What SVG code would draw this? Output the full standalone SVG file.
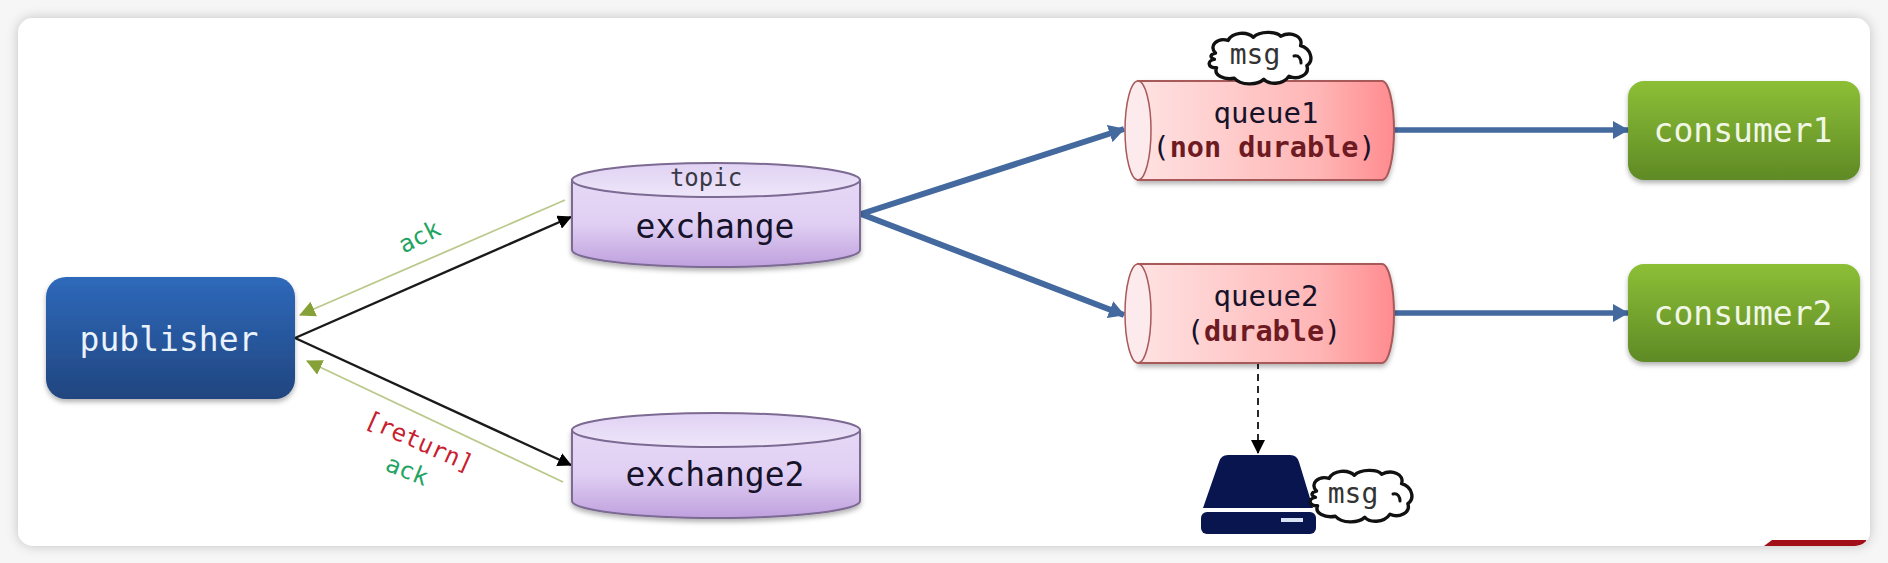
<svg xmlns="http://www.w3.org/2000/svg" xmlns:xlink="http://www.w3.org/1999/xlink" width="1888" height="563" viewBox="0 0 1888 563">
<style>
text{font-family:"DejaVu Sans Mono","Liberation Mono",monospace;text-anchor:middle}
.cyl{fill:url(#gPurple);stroke:#7d6a93;stroke-width:2}
.cylTop{fill:url(#gPurpleTop);stroke:#7d6a93;stroke-width:2}
.q{fill:url(#gRed);stroke:#a85a5a;stroke-width:2}
.qEnd{fill:#fdeaec;stroke:#a85a5a;stroke-width:1.5}
.dark{fill:#15122a}
.b{font-weight:bold;fill:#6e1a22}
.cloud{fill:#fff;stroke:#111;stroke-width:3.2;stroke-linejoin:round}
.curl{fill:none;stroke:#111;stroke-width:3;stroke-linecap:round}
.msg{font-size:28px;fill:#333}
.blue{stroke:#43699f;fill:none}
.black{stroke:#1a1a1a;stroke-width:2.4;fill:none}
.ackline{stroke:#b9c98a;stroke-width:1.8;fill:none}
.ack{font-size:24px;fill:#1fa463}
.ret{font-size:24px;fill:#c8202f}
.light{font-size:33px;fill:#f1f7e6}
</style>
<defs>
<linearGradient id="gBlue" x1="0" y1="0" x2="0" y2="1"><stop offset="0" stop-color="#2e69bb"/><stop offset="1" stop-color="#21457f"/></linearGradient>
<linearGradient id="gGreen" x1="0" y1="0" x2="0" y2="1"><stop offset="0" stop-color="#8cbf36"/><stop offset="1" stop-color="#5f8a26"/></linearGradient>
<linearGradient id="gPurple" x1="0" y1="0" x2="0" y2="1"><stop offset="0" stop-color="#e6d8f6"/><stop offset="0.5" stop-color="#e0cff3"/><stop offset="1" stop-color="#bfa0de"/></linearGradient>
<linearGradient id="gPurpleTop" x1="0" y1="0" x2="0" y2="1"><stop offset="0" stop-color="#e0d2f3"/><stop offset="1" stop-color="#eee6fa"/></linearGradient>
<linearGradient id="gRed" x1="0" y1="0" x2="1" y2="0"><stop offset="0" stop-color="#ffe2e2"/><stop offset="0.7" stop-color="#ffb6b6"/><stop offset="1" stop-color="#ff8b8f"/></linearGradient>
<filter id="cardShadow" x="-5%" y="-10%" width="110%" height="120%"><feDropShadow dx="0" dy="0" stdDeviation="6" flood-color="#000" flood-opacity="0.22"/></filter>
<filter id="nodeShadow" x="-10%" y="-10%" width="120%" height="130%"><feDropShadow dx="0" dy="3" stdDeviation="2.5" flood-color="#000" flood-opacity="0.3"/></filter>
<clipPath id="cardClip"><rect x="18" y="18" width="1852" height="528" rx="15"/></clipPath>
<marker id="mBlack" markerUnits="userSpaceOnUse" viewBox="0 0 14 14" markerWidth="14" markerHeight="14" refX="13" refY="7" orient="auto"><path d="M0,0L14,7L0,14Z" fill="#000"/></marker>
<marker id="mGreen" markerUnits="userSpaceOnUse" viewBox="0 0 16 16" markerWidth="16" markerHeight="16" refX="15" refY="8" orient="auto"><path d="M0,0L16,8L0,16Z" fill="#86a137"/></marker>
<marker id="mBlue" markerUnits="userSpaceOnUse" viewBox="0 0 16 18" markerWidth="16" markerHeight="18" refX="15" refY="9" orient="auto"><path d="M0,0L16,9L0,18Z" fill="#43699f"/></marker>
<marker id="mDash" markerUnits="userSpaceOnUse" viewBox="0 0 14 14" markerWidth="14" markerHeight="14" refX="7" refY="13" orient="0"><path d="M0,0L14,0L7,14Z" fill="#000"/></marker>
<path id="cloudShape" d="M10,21 C3,14 12,6 22,9 C26,1 40,0 46,6 C52,0 68,0 72,5 C82,0 94,5 91,14 C101,17 104,28 97,33 C100,42 88,47 80,43 C74,52 60,51 56,46 C50,52 34,52 28,45 C18,47 8,42 11,35 C2,35 2,28 9,27 C4,25 5,22 10,21 Z"/>
</defs>

<rect width="1888" height="563" fill="#f6f6f6"/>
<rect id="card" x="18" y="18" width="1852" height="528" rx="15" fill="#fff" filter="url(#cardShadow)"/>
<path d="M1764,546 L1772,540 H1866 L1870,546 Z" fill="#a30f18" clip-path="url(#cardClip)"/>

<g id="connectors">
<line class="ackline" x1="565" y1="200" x2="300" y2="315" marker-end="url(#mGreen)"/>
<line class="ackline" x1="563" y1="482" x2="307" y2="361" marker-end="url(#mGreen)"/>
<line class="black" x1="295" y1="338" x2="571" y2="217" marker-end="url(#mBlack)"/>
<line class="black" x1="295" y1="338" x2="571" y2="465" marker-end="url(#mBlack)"/>
<line class="blue" stroke-width="6" x1="861" y1="214" x2="1124" y2="129" marker-end="url(#mBlue)"/>
<line class="blue" stroke-width="6" x1="861" y1="214" x2="1124" y2="315" marker-end="url(#mBlue)"/>
<line class="blue" stroke-width="5.500" x1="1394" y1="130" x2="1628" y2="130" marker-end="url(#mBlue)"/>
<line class="blue" stroke-width="5.500" x1="1394" y1="313" x2="1628" y2="313" marker-end="url(#mBlue)"/>
<line stroke="#111" stroke-width="1.8" stroke-dasharray="7 5" x1="1258" y1="362" x2="1258" y2="453" marker-end="url(#mDash)"/>
</g>

<g id="publisher">
<rect x="46" y="277" width="249" height="122" rx="20" fill="url(#gBlue)" filter="url(#nodeShadow)"/>
<text x="169" y="351" font-size="33" fill="#eaf2fb">publisher</text>
</g>

<g id="exchange">
<path class="cyl" filter="url(#nodeShadow)" d="M572,180 V250 A144,17 0 0 0 860,250 V180 Z"/>
<ellipse class="cylTop" cx="716" cy="180" rx="144" ry="17"/>
<text x="706" y="186" font-size="24" fill="#3a3a46">topic</text>
<text x="715" y="238" font-size="33" class="dark">exchange</text>
</g>

<g id="exchange2">
<path class="cyl" filter="url(#nodeShadow)" d="M572,430 V501 A144,17 0 0 0 860,501 V430 Z"/>
<ellipse class="cylTop" cx="716" cy="430" rx="144" ry="17"/>
<text x="715" y="486" font-size="33" class="dark">exchange2</text>
</g>

<g id="queue1">
<path class="q" filter="url(#nodeShadow)" d="M1138,81 H1382 A12,49.5 0 0 1 1382,180 H1138 Z"/>
<ellipse class="qEnd" cx="1138" cy="130.500" rx="13" ry="49.500"/>
<text x="1266" y="123" font-size="29" class="dark">queue1</text>
<text x="1264" y="157" font-size="28.500" class="dark">(<tspan class="b">non durable</tspan>)</text>
</g>

<g id="queue2">
<path class="q" filter="url(#nodeShadow)" d="M1138,264 H1382 A12,49.5 0 0 1 1382,363 H1138 Z"/>
<ellipse class="qEnd" cx="1138" cy="313.500" rx="13" ry="49.500"/>
<text x="1266" y="306" font-size="29" class="dark">queue2</text>
<text x="1264" y="341" font-size="28.500" class="dark">(<tspan class="b">durable</tspan>)</text>
</g>

<g id="consumer1">
<rect x="1628" y="81" width="232" height="99" rx="16" fill="url(#gGreen)" filter="url(#nodeShadow)"/>
<text x="1743" y="142" class="light">consumer1</text>
</g>

<g id="consumer2">
<rect x="1628" y="264" width="232" height="98" rx="16" fill="url(#gGreen)" filter="url(#nodeShadow)"/>
<text x="1743" y="325" class="light">consumer2</text>
</g>

<g id="msg-cloud-queue">
<use href="#cloudShape" class="cloud" transform="translate(1205,31) scale(1.05)"/>
<path class="curl" d="M1294,56 C1299,55 1301,59 1301,63"/>
<text class="msg" x="1255" y="64">msg</text>
</g>

<g id="disk">
<path d="M1228,455 H1290 Q1297,455 1299,462 L1313,508 H1203 L1219,462 Q1221,455 1228,455 Z" fill="#08154f"/>
<rect x="1201" y="512" width="115" height="22" rx="6" fill="#08154f"/>
<rect x="1281" y="518" width="22" height="4" fill="#d9e2f2"/>
</g>

<g id="msg-cloud-disk">
<use href="#cloudShape" class="cloud" transform="translate(1306,469) scale(1.05)"/>
<path class="curl" d="M1393,494 C1398,493 1400,497 1400,501"/>
<text class="msg" x="1353" y="503">msg</text>
</g>

<g id="labels">
<text class="ack" transform="translate(423,244) rotate(-27)">ack</text>
<text class="ret" transform="translate(416,449) rotate(24)">[return]</text>
<text class="ack" transform="translate(404,478) rotate(22)">ack</text>
</g>
</svg>
